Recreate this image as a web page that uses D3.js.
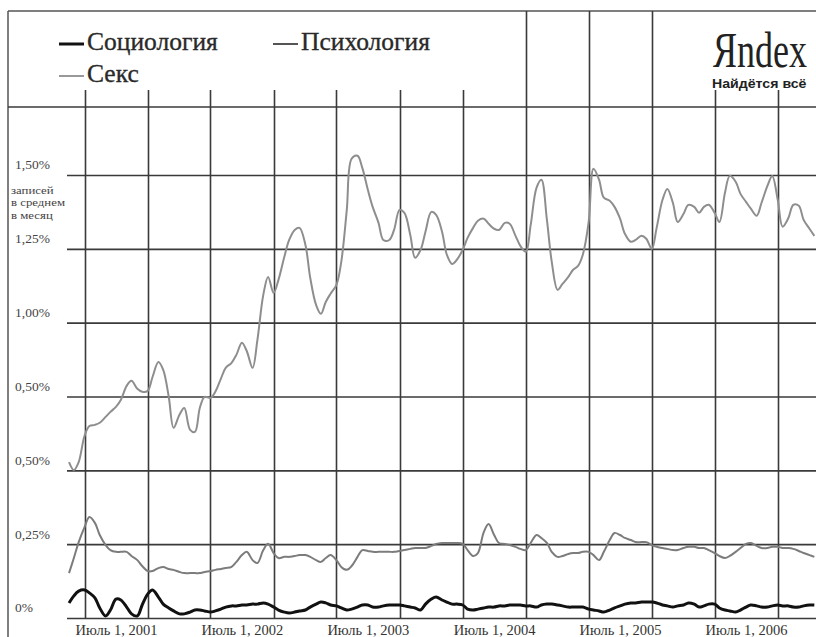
<!DOCTYPE html>
<html>
<head>
<meta charset="utf-8">
<script src="https://cdn.jsdelivr.net/npm/d3@7"></script>
<style>
  html, body { margin: 0; padding: 0; background: #fff; }
  svg { display: block; }
</style>
</head>
<body>
<div id="chart"></div>
<script>
// ---- data (share of blog posts, %, sampled twice a month from mid Feb 2001) ----
const seriesNames = ["Социология", "Психология", "Секс"];

const sociology = [
  0.051,0.075,0.091,0.095,0.085,0.068,0.034,0.007,0.027,0.064,
  0.061,0.037,0.014,0.007,0.044,0.081,0.095,0.071,0.047,0.034,
  0.024,0.014,0.014,0.020,0.027,0.027,0.024,0.020,0.024,0.030,
  0.037,0.041,0.041,0.044,0.044,0.047,0.047,0.051,0.047,0.037,
  0.027,0.020,0.017,0.020,0.024,0.027,0.037,0.047,0.054,0.051,
  0.044,0.041,0.034,0.027,0.030,0.037,0.044,0.044,0.037,0.037,
  0.041,0.044,0.044,0.044,0.041,0.037,0.034,0.027,0.047,0.064,
  0.071,0.061,0.054,0.047,0.047,0.044,0.030,0.027,0.030,0.034,
  0.037,0.037,0.041,0.041,0.044,0.044,0.044,0.041,0.041,0.037,
  0.044,0.047,0.047,0.044,0.041,0.037,0.037,0.037,0.037,0.030,
  0.027,0.024,0.020,0.027,0.034,0.041,0.047,0.051,0.051,0.054,
  0.054,0.054,0.051,0.044,0.041,0.037,0.041,0.044,0.051,0.047,
  0.037,0.041,0.047,0.047,0.034,0.027,0.024,0.020,0.027,0.037,
  0.044,0.041,0.037,0.037,0.041,0.044,0.041,0.041,0.037,0.037,
  0.041,0.044,0.044
];

const psychology = [
  0.152,0.203,0.257,0.308,0.342,0.322,0.281,0.247,0.230,0.224,
  0.224,0.224,0.210,0.196,0.176,0.159,0.159,0.169,0.173,0.166,
  0.163,0.156,0.152,0.152,0.152,0.152,0.156,0.159,0.163,0.166,
  0.169,0.173,0.190,0.213,0.224,0.196,0.186,0.230,0.251,0.220,
  0.203,0.207,0.207,0.210,0.213,0.213,0.207,0.196,0.190,0.203,
  0.213,0.196,0.173,0.163,0.176,0.207,0.230,0.227,0.224,0.224,
  0.224,0.224,0.224,0.227,0.230,0.234,0.237,0.237,0.237,0.244,
  0.251,0.254,0.254,0.254,0.254,0.251,0.230,0.210,0.220,0.291,
  0.318,0.281,0.254,0.251,0.247,0.241,0.234,0.230,0.254,0.281,
  0.271,0.254,0.224,0.207,0.210,0.217,0.220,0.220,0.224,0.224,
  0.213,0.196,0.224,0.264,0.288,0.281,0.271,0.264,0.257,0.257,
  0.257,0.247,0.241,0.237,0.234,0.230,0.230,0.237,0.241,0.241,
  0.237,0.237,0.230,0.220,0.210,0.203,0.210,0.224,0.237,0.251,
  0.254,0.244,0.237,0.237,0.241,0.241,0.237,0.237,0.234,0.227,
  0.220,0.213,0.207
];

const sex = [
  0.528,0.501,0.528,0.617,0.650,0.654,0.661,0.681,0.698,0.715,
  0.738,0.786,0.803,0.776,0.766,0.769,0.816,0.867,0.840,0.749,
  0.644,0.688,0.711,0.637,0.630,0.711,0.749,0.745,0.766,0.810,
  0.847,0.864,0.891,0.932,0.904,0.847,0.942,1.094,1.155,1.101,
  1.145,1.223,1.280,1.314,1.321,1.264,1.152,1.060,1.030,1.070,
  1.098,1.128,1.206,1.382,1.555,1.565,1.524,1.450,1.392,1.338,
  1.280,1.280,1.314,1.382,1.372,1.297,1.220,1.247,1.308,1.375,
  1.365,1.308,1.230,1.199,1.213,1.247,1.287,1.321,1.345,1.352,
  1.335,1.318,1.314,1.338,1.335,1.294,1.260,1.240,1.331,1.457,
  1.484,1.348,1.206,1.111,1.131,1.155,1.179,1.192,1.230,1.341,
  1.521,1.484,1.423,1.413,1.392,1.352,1.301,1.274,1.280,1.294,
  1.284,1.250,1.321,1.416,1.453,1.406,1.341,1.369,1.399,1.392,
  1.372,1.392,1.399,1.372,1.341,1.440,1.497,1.477,1.436,1.409,
  1.386,1.362,1.406,1.463,1.497,1.416,1.325,1.355,1.399,1.396,
  1.348,1.318,1.294
];

// y ticks: the original labels (typo included)
const yTickValues = [0, 0.25, 0.5, 0.75, 1.0, 1.25, 1.5];
const yTickLabels = ["0%", "0,25%", "0,50%", "0,50%", "1,00%", "1,25%", "1,50%"];
const yUnitLines = ["записей", "в среднем", "в месяц"];

// x: grid every half year (Apr 1 / Oct 1), labels on July 1
const xLabelYears = [2001, 2002, 2003, 2004, 2005, 2006];
const xLabelText = xLabelYears.map(y => "Июль 1, " + y);

// dates: 15th / 1st of each month, starting 15 Feb 2001
const dates = sex.map((_, i) => new Date(2001, 1 + Math.floor((i + 1) / 2), i % 2 === 0 ? 15 : 1));

///////////////////////////////////////////////////////////////////////

const W = 816, H = 637;
const plotLeft = 67, plotRight = 816, plotTop = 107, plotBottom = 618;
const serif = "'Liberation Serif', serif";

const svg = d3.select("#chart").append("svg")
  .attr("width", W).attr("height", H);

const x = d3.scaleTime()
  .domain([new Date(2001, 0, 1), new Date(2007, 0, 1)])
  .range([53.5, 809.5]);

const y = d3.scaleLinear()
  .domain([0, 1.5])
  .range([plotBottom, 175]);

const gridColor = "#3a3a3a";

// frame
svg.append("line").attr("x1", 8).attr("x2", W).attr("y1", 11).attr("y2", 11)
  .attr("stroke", "#555").attr("stroke-width", 1.5);
svg.append("line").attr("x1", 8).attr("x2", 8).attr("y1", 11).attr("y2", H)
  .attr("stroke", "#555").attr("stroke-width", 1.5);
svg.append("line").attr("x1", 8).attr("x2", W).attr("y1", plotTop).attr("y2", plotTop)
  .attr("stroke", gridColor).attr("stroke-width", 1.6);

// vertical grid
const gridDates = d3.range(12).map(i => new Date(2001, 3 + 6 * i, 1));
const tall = d => d >= new Date(2004, 9, 1) && d <= new Date(2005, 9, 1);

svg.append("g").selectAll("line")
  .data(gridDates)
  .join("line")
  .attr("x1", d => Math.round(x(d)) + 0.5)
  .attr("x2", d => Math.round(x(d)) + 0.5)
  .attr("y1", d => tall(d) ? 11 : 90)
  .attr("y2", plotBottom)
  .attr("stroke", gridColor)
  .attr("stroke-width", 1.6);

// horizontal grid + y labels via axis
const yAxis = d3.axisLeft(y)
  .tickValues(yTickValues)
  .tickSize(-(plotRight - plotLeft))
  .tickFormat((d, i) => yTickLabels[i]);

const gy = svg.append("g")
  .attr("transform", `translate(${plotLeft},0)`)
  .call(yAxis);
gy.select(".domain").remove();
gy.selectAll(".tick line").attr("stroke", gridColor).attr("stroke-width", 1.6);
gy.selectAll(".tick text")
  .attr("x", 15 - plotLeft)
  .attr("dy", "-0.45em")
  .attr("text-anchor", "start")
  .attr("fill", "#444")
  .style("font-family", serif)
  .style("font-size", "13.5px");

// unit caption, widened like the scan
svg.append("g")
  .attr("transform", "translate(11,0) scale(1.22,1)")
  .selectAll("text")
  .data(yUnitLines)
  .join("text")
  .attr("x", 0)
  .attr("y", (d, i) => 194 + i * 12.5)
  .attr("fill", "#444")
  .style("font-family", serif)
  .style("font-size", "10.5px")
  .text(d => d);

// x labels via axis
const xAxis = d3.axisBottom(x)
  .tickValues(xLabelYears.map(yr => new Date(yr, 6, 1)))
  .tickSize(0)
  .tickFormat((d, i) => xLabelText[i]);

const gx = svg.append("g")
  .attr("transform", `translate(0,${plotBottom})`)
  .call(xAxis);
gx.select(".domain").remove();
gx.selectAll(".tick text")
  .attr("y", 17)
  .attr("dy", 0)
  .attr("fill", "#333")
  .style("font-family", serif)
  .style("font-size", "14.5px");

// series
svg.append("clipPath").attr("id", "plotclip")
  .append("rect").attr("x", 60).attr("y", plotTop).attr("width", W - 60).attr("height", H - plotTop);

const line = d3.line()
  .x((d, i) => x(dates[i]))
  .y(d => y(d))
  .curve(d3.curveCatmullRom.alpha(0.5));

const series = [
  { name: seriesNames[2], values: sex,        color: "#8e8e8e", width: 2 },
  { name: seriesNames[1], values: psychology, color: "#7c7c7c", width: 2 },
  { name: seriesNames[0], values: sociology,  color: "#111",    width: 3 }
];

svg.append("g").attr("clip-path", "url(#plotclip)")
  .selectAll("path")
  .data(series)
  .join("path")
  .attr("d", d => line(d.values))
  .attr("fill", "none")
  .attr("stroke", d => d.color)
  .attr("stroke-width", d => d.width)
  .attr("stroke-linejoin", "round");

// legend
const legend = [
  { name: seriesNames[0], color: "#111", width: 3, lx: 59,  ly: 44 },
  { name: seriesNames[1], color: "#555", width: 2, lx: 273, ly: 44 },
  { name: seriesNames[2], color: "#999", width: 2, lx: 59,  ly: 76 }
];
const lg = svg.append("g").selectAll("g").data(legend).join("g");
lg.append("line")
  .attr("x1", d => d.lx).attr("x2", d => d.lx + 25)
  .attr("y1", d => d.ly).attr("y2", d => d.ly)
  .attr("stroke", d => d.color).attr("stroke-width", d => d.width);
lg.append("text")
  .attr("x", d => d.lx + 28)
  .attr("y", d => d.ly + 6)
  .attr("fill", "#2a2a2a")
  .attr("stroke", "#2a2a2a")
  .attr("stroke-width", 0.35)
  .style("font-family", serif)
  .style("font-size", "25.5px")
  .text(d => d.name);

// Yandex logo (condensed by a horizontal scale)
svg.append("text")
  .attr("transform", "translate(713,67) scale(0.72,1)")
  .attr("fill", "#222")
  .style("font-family", serif)
  .style("font-size", "50px")
  .text("Яndex");
svg.append("text")
  .attr("transform", "translate(712,88) scale(1.18,1)")
  .attr("fill", "#222")
  .style("font-family", "'Liberation Sans', Arial, sans-serif")
  .style("font-weight", "bold")
  .style("font-size", "12px")
  .text("Найдётся всё");
</script>
</body>
</html>
